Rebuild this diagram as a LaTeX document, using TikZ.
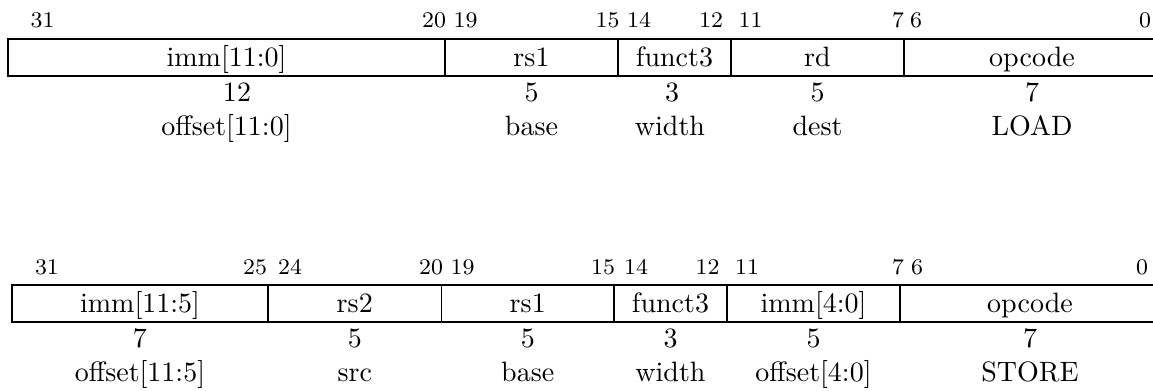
\documentclass[tikz,border=0pt]{standalone}
\begin{document}
\begin{tikzpicture}[x=0.357pt,y=-0.357pt,
  field/.style={anchor=base,inner sep=0pt},
  bitnum/.style={anchor=base,inner sep=0pt,font=\footnotesize},
  fbox/.style={draw,line width=0.4pt}]
\useasboundingbox (0,0) rectangle (1153,390);
% ---------- LOAD (I-type) ----------
\draw[fbox] (8,39) coordinate (ta) rectangle (1160,76) coordinate (tb);
\foreach \x in {445,618,731,904} \draw[fbox] (\x,39) -- (\x,76);
\node[bitnum] (tb31) at (42.5,27) {31};
\node[bitnum] (tb20) at (434,27) {20};
\node[bitnum] (tb19) at (465.5,27) {19};
\node[bitnum] (tb15) at (607.5,27) {15};
\node[bitnum] (tb14) at (639,27) {14};
\node[bitnum] (tb12) at (711,27) {12};
\node[bitnum] (tb11) at (750.5,27) {11};
\node[bitnum] (tb7) at (898,27) {7};
\node[bitnum] (tb6) at (916,27) {6};
\node[bitnum] (tb0) at (1145,27) {0};
\node[field] (timm) at (226.5,66) {imm[11:0]};
\node[field] (trs1) at (531.5,66) {rs1};
\node[field] (tf3) at (674.5,66) {funct3};
\node[field] (trd) at (817.5,66) {rd};
\node[field] (top) at (1032,66) {opcode};
\node[field] (tn1) at (237,101) {12};
\node[field] (tn2) at (531.5,101) {5};
\node[field] (tn3) at (672,101) {3};
\node[field] (tn4) at (817.5,101) {5};
\node[field] (tn5) at (1032,101) {7};
\node[field] (td1) at (226.5,135) {offset[11:0]};
\node[field] (td2) at (531.5,135) {base};
\node[field] (td3) at (670,135) {width};
\node[field] (td4) at (817.5,135) {dest};
\node[field] (td5) at (1032,135) {LOAD};
% ---------- STORE (S-type) ----------
\draw[fbox] (12,285) coordinate (ba) rectangle (1160,322) coordinate (bb);
\foreach \x in {268,441.5,614,727,900} \draw[fbox] (\x,285) -- (\x,322);
\node[bitnum] (bb31) at (47,274) {31};
\node[bitnum] (bb25) at (255,274) {25};
\node[bitnum] (bb24) at (290,274) {24};
\node[bitnum] (bb20) at (431,274) {20};
\node[bitnum] (bb19) at (462.5,274) {19};
\node[bitnum] (bb15) at (603,274) {15};
\node[bitnum] (bb14) at (636,274) {14};
\node[bitnum] (bb12) at (707.5,274) {12};
\node[bitnum] (bb11) at (747,274) {11};
\node[bitnum] (bb7) at (898,274) {7};
\node[bitnum] (bb6) at (917,274) {6};
\node[bitnum] (bb0) at (1142,274) {0};
\node[field] (bimm1) at (140,312) {imm[11:5]};
\node[field] (brs2) at (354.75,312) {rs2};
\node[field] (brs1) at (527.75,312) {rs1};
\node[field] (bf3) at (670.5,312) {funct3};
\node[field] (bimm2) at (813.5,312) {imm[4:0]};
\node[field] (bop) at (1030,312) {opcode};
\node[field] (bn1) at (140,347) {7};
\node[field] (bn2) at (354.75,347) {5};
\node[field] (bn3) at (527.75,347) {5};
\node[field] (bn4) at (670.5,347) {3};
\node[field] (bn5) at (813.5,347) {5};
\node[field] (bn6) at (1030,347) {7};
\node[field] (bd1) at (140,381) {offset[11:5]};
\node[field] (bd2) at (354.75,381) {src};
\node[field] (bd3) at (527.75,381) {base};
\node[field] (bd4) at (670.5,381) {width};
\node[field] (bd5) at (813.5,381) {offset[4:0]};
\node[field] (bd6) at (1030,381) {STORE};
\end{tikzpicture}
\end{document}
